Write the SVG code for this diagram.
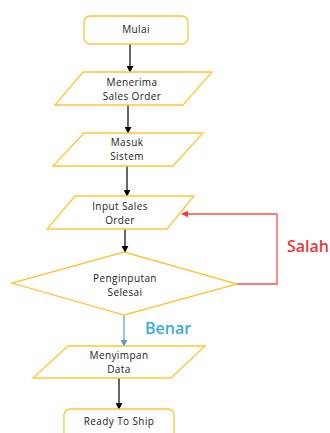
<svg xmlns="http://www.w3.org/2000/svg" width="330" height="433" viewBox="0 0 330 433">
<style>
.shape{fill:#ffffff;stroke:#ffc533;stroke-width:1.3}
.lbl{font-family:"Open Sans","DejaVu Sans",sans-serif;font-size:10px;fill:#222222;text-anchor:middle;letter-spacing:0.4px}
.line{fill:none;stroke:#000000;stroke-width:1.2}
</style>
<defs>
<marker id="ah" viewBox="0 0 10 10" refX="9" refY="5" markerWidth="7" markerHeight="7" orient="auto" markerUnits="userSpaceOnUse"><path d="M0,0 L10,5 L0,10 z" fill="#000000"/></marker>
<marker id="ahb" viewBox="0 0 10 10" refX="9" refY="5" markerWidth="7" markerHeight="7" orient="auto" markerUnits="userSpaceOnUse"><path d="M0,0 L10,5 L0,10 z" fill="#5b9bd5"/></marker>
<marker id="ahr" viewBox="0 0 10 10" refX="9" refY="5" markerWidth="7" markerHeight="7" orient="auto" markerUnits="userSpaceOnUse"><path d="M0,0 L10,5 L0,10 z" fill="#ff3333"/></marker>
</defs>
<rect width="330" height="433" fill="#ffffff"/>
<g id="connectors">
<line class="line" x1="130" y1="44" x2="130" y2="72" marker-end="url(#ah)"/>
<line class="line" x1="128" y1="105" x2="128" y2="133" marker-end="url(#ah)"/>
<line class="line" x1="127" y1="166" x2="127" y2="196" marker-end="url(#ah)"/>
<line class="line" x1="125" y1="229" x2="125" y2="252" marker-end="url(#ah)"/>
<line x1="124" y1="315" x2="124" y2="346" stroke="#5b9bd5" stroke-width="1.2" marker-end="url(#ahb)"/>
<line class="line" x1="119" y1="378" x2="119" y2="409" marker-end="url(#ah)"/>
<polyline points="237,284 277,284 277,214 182,214" fill="none" stroke="#ff4d4d" stroke-width="1.3" marker-end="url(#ahr)"/>
<text x="287" y="252" font-family="'Open Sans','DejaVu Sans',sans-serif" font-size="16" font-weight="600" fill="#e8383d">Salah</text>
<text x="145" y="334" font-family="'Open Sans','DejaVu Sans',sans-serif" font-size="16" font-weight="600" fill="#3aabe0">Benar</text>
</g>
<g id="mulai">
<rect class="shape" x="84" y="16" width="104" height="28" rx="6"/>
<text class="lbl" x="136" y="33">Mulai</text>
</g>
<g id="menerima">
<polygon class="shape" points="83,72 212,72 183,105 55,105"/>
<text class="lbl" x="132" y="86">Menerima</text>
<text class="lbl" x="132" y="100">Sales Order</text>
</g>
<g id="masuk">
<polygon class="shape" points="84,133 203,133 173,166 53,166"/>
<text class="lbl" x="127" y="146">Masuk</text>
<text class="lbl" x="127" y="160">Sistem</text>
</g>
<g id="input">
<polygon class="shape" points="75,196 194,196 167,229 47,229"/>
<text class="lbl" x="120" y="210">Input Sales</text>
<text class="lbl" x="120" y="224">Order</text>
</g>
<g id="penginputan">
<polygon class="shape" points="124,252 237,284 124,315 12,283"/>
<text class="lbl" x="125" y="282">Penginputan</text>
<text class="lbl" x="125" y="296">Selesai</text>
</g>
<g id="menyimpan">
<polygon class="shape" points="68,346 205,346 171,378 33,378"/>
<text class="lbl" x="119" y="359">Menyimpan</text>
<text class="lbl" x="119" y="373">Data</text>
</g>
<g id="ready">
<rect class="shape" x="64" y="409" width="110" height="34" rx="6"/>
<text class="lbl" x="119" y="425">Ready To Ship</text>
</g>
</svg>
